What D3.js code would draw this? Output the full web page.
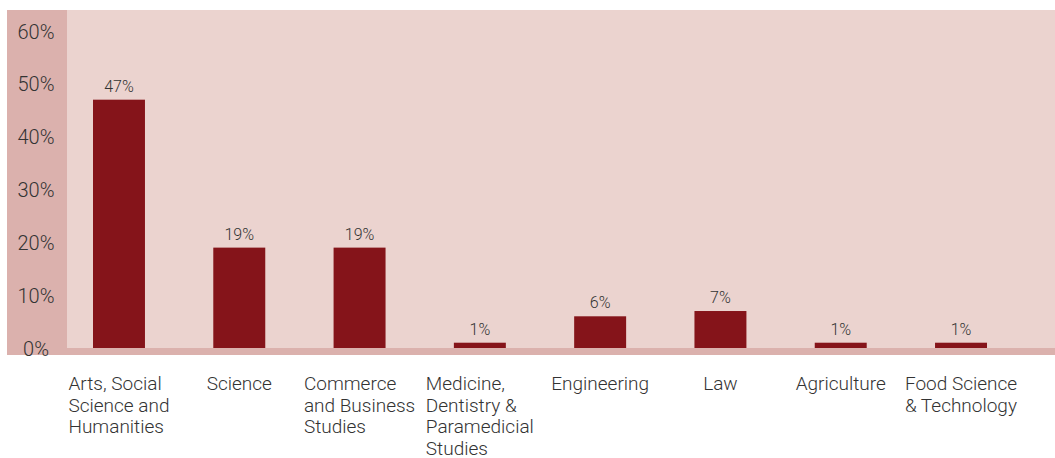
<!DOCTYPE html>
<html>
<head>
<meta charset="utf-8">
<script src="https://cdn.jsdelivr.net/npm/d3@7"></script>
<style>
  html, body { margin: 0; padding: 0; background: #fff; }
  svg { display: block; }
  text { font-family: "Roboto", "DejaVu Sans", sans-serif; font-weight: 300; fill: #333; }
</style>
</head>
<body>
<svg id="chart" width="1055" height="458"></svg>
<script>
// Share of enrolment by field of study (%)
const categories = [
  "Arts, Social Science and Humanities",
  "Science",
  "Commerce and Business Studies",
  "Medicine, Dentistry & Paramedicial Studies",
  "Engineering",
  "Law",
  "Agriculture",
  "Food Science & Technology"
];
const categoryLines = [
  ["Arts, Social", "Science and", "Humanities"],
  ["Science"],
  ["Commerce", "and Business", "Studies"],
  ["Medicine,", "Dentistry &", "Paramedicial", "Studies"],
  ["Engineering"],
  ["Law"],
  ["Agriculture"],
  ["Food Science", "& Technology"]
];
const shares = [47, 19, 19, 1, 6, 7, 1, 1];
const yTicks = [0, 10, 20, 30, 40, 50, 60];

const svg = d3.select("#chart");
const W = 1055;

const frame = { left: 7, top: 10, axisRight: 67, base: 348, bottom: 355 };

const x = d3.scaleBand()
  .domain(categories)
  .range([93, 987])
  .paddingInner(0.568)
  .paddingOuter(0);

const y = d3.scaleLinear()
  .domain([0, 60])
  .range([frame.base, 31]);

// background panels
svg.append("rect")
  .attr("x", frame.left).attr("y", frame.top)
  .attr("width", W - frame.left).attr("height", frame.bottom - frame.top)
  .attr("fill", "#dbb1ad");
svg.append("rect")
  .attr("x", frame.axisRight).attr("y", frame.top)
  .attr("width", W - frame.axisRight).attr("height", frame.base - frame.top)
  .attr("fill", "#ebd3cf");

// y axis labels
const yAxis = d3.axisLeft(y)
  .tickValues(yTicks)
  .tickSize(0)
  .tickPadding(0)
  .tickFormat(d => d + "%");
const gy = svg.append("g").attr("transform", "translate(36,0)").call(yAxis);
gy.select(".domain").remove();
gy.selectAll("text")
  .attr("text-anchor", "middle")
  .attr("dy", "0.35em")
  .attr("x", 0)
  .attr("font-size", null)
  .attr("font-family", null)
  .style("font-size", "20px")
  .attr("fill", "#333");

// bars
svg.append("g").selectAll("rect")
  .data(shares)
  .join("rect")
  .attr("x", (d, i) => x(categories[i]))
  .attr("y", d => y(d))
  .attr("width", x.bandwidth())
  .attr("height", d => y(0) - y(d))
  .attr("fill", "#85141a");

// value labels
svg.append("g").selectAll("text")
  .data(shares)
  .join("text")
  .attr("x", (d, i) => x(categories[i]) + x.bandwidth() / 2)
  .attr("y", d => y(d) - 8)
  .attr("text-anchor", "middle")
  .style("font-size", "16px")
  .text(d => d + "%");

// category labels: left-aligned blocks centred under each bar
const lab = svg.append("g");
categoryLines.forEach((lines, i) => {
  const t = lab.append("text")
    .attr("y", 390)
    .style("font-size", "19px");
  lines.forEach((ln, j) => {
    t.append("tspan").attr("x", 0).attr("dy", j === 0 ? 0 : 21.5).text(ln);
  });
  let wmax = 0;
  t.selectAll("tspan").each(function () { wmax = Math.max(wmax, this.getComputedTextLength()); });
  const cx = x(categories[i]) + x.bandwidth() / 2;
  t.attr("transform", `translate(${cx - wmax / 2},0)`);
});
</script>
</body>
</html>
